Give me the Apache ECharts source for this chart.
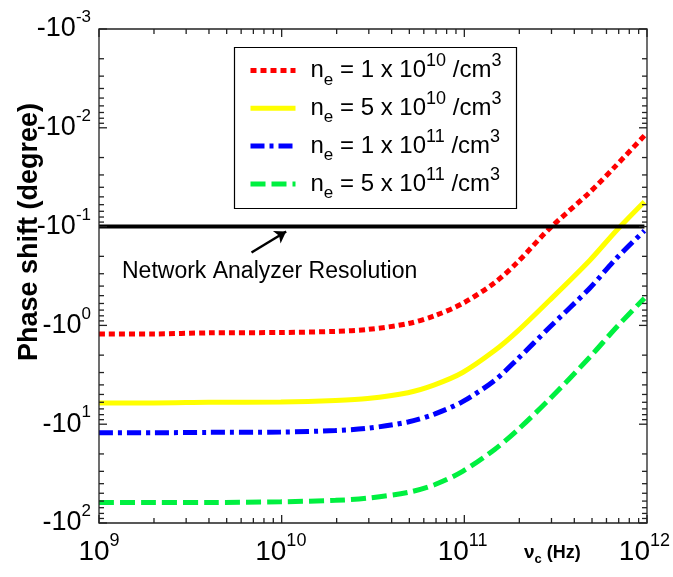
<!DOCTYPE html>
<html>
<head>
<meta charset="utf-8">
<script src="https://cdn.jsdelivr.net/npm/echarts@6/dist/echarts.min.js"></script>
<style>
    html, body {margin: 0; padding: 0; background: #fff;}
    #container {width: 673px; height: 577px;}
</style>
</head>
<body>
<div id="container"></div>
<script>
// collision frequency (Hz)
var freq = [1e9, 2e9, 4e9, 1e10, 2e10, 3e10, 5e10, 7e10, 1e11, 1.5e11, 2e11, 3e11, 5e11, 7e11, 1e12];
// |phase shift| in degree (axis shows them negative)
var shiftA = [1.22, 1.22, 1.19, 1.18, 1.15, 1.10, 0.96, 0.80, 0.60, 0.37, 0.23, 0.105, 0.045, 0.024, 0.012];
var shiftB = [6.1, 6.1, 6.0, 5.95, 5.75, 5.5, 4.8, 4.0, 3.0, 1.8, 1.15, 0.56, 0.22, 0.11, 0.056];
var shiftC = [12.2, 12.2, 12.1, 12.0, 11.6, 11.0, 9.5, 7.9, 5.9, 3.6, 2.2, 1.05, 0.42, 0.21, 0.11];
var shiftD = [62, 62, 62, 61, 59, 56, 49, 41, 30, 18, 11.5, 5.6, 2.1, 1.05, 0.53];
var resolution = 0.1;
var arrowFrom = [6.9e9, 0.183];
var arrowTo = [1.07e10, 0.112];

var densityBase = ['1', '5', '1', '5'];
var densityExp = ['10', '10', '11', '11'];
var seriesNames = ['ne1e10', 'ne5e10', 'ne1e11', 'ne5e11'];

var xMajorTicks = [1e9, 1e10, 1e11, 1e12];
var yMajorTicks = [1e-3, 1e-2, 1e-1, 1, 10, 100];
var minorSteps = [2, 3, 4, 5, 6, 7, 8, 9];

var X_MIN = 1e9, X_MAX = 1e12, Y_MIN = 1e-3, Y_MAX = 100;
var FONT = 'Liberation Sans, Arial, sans-serif';
var AXIS_COLOR = '#222';
var GRID = {left: 99, right: 26, top: 29, bottom: 54};
var CHART_W = 673, CHART_H = 577;

function pairs(xs, ys) {
    var out = [];
    for (var i = 0; i < xs.length; i++) {
        out.push([xs[i], ys[i]]);
    }
    return out;
}

function log10(v) {
    return Math.log(v) / Math.LN10;
}

function expOf(v) {
    return Math.round(log10(v));
}

// decade ticks (long) + 2..9 minor ticks (short)
function buildTicks(majors) {
    var out = [];
    for (var i = 0; i < majors.length; i++) {
        out.push({v: majors[i], len: 8});
        if (i == majors.length - 1) break;
        for (var j = 0; j < minorSteps.length; j++) {
            out.push({v: majors[i] * minorSteps[j], len: 5});
        }
    }
    return out;
}

// plot box in pixels, same numbers as the grid option
var boxL = GRID.left, boxR = CHART_W - GRID.right;
var boxT = GRID.top, boxB = CHART_H - GRID.bottom;

function xPx(v) {
    return boxL + (boxR - boxL) * (log10(v) - log10(X_MIN)) / (log10(X_MAX) - log10(X_MIN));
}
function yPx(v) {
    // y axis is inverted: smallest magnitude at the top
    return boxT + (boxB - boxT) * (log10(v) - log10(Y_MIN)) / (log10(Y_MAX) - log10(Y_MIN));
}

function bar(x, y, w, h) {
    return {
        type: 'rect', silent: true, z: 10,
        shape: {x: x, y: y, width: w, height: h},
        style: {fill: AXIS_COLOR}
    };
}

var dom = document.getElementById('container');
var myChart = echarts.init(dom);

var lineStyles = [
    {color: '#ff0000', width: 5, type: [6, 4]},
    {color: '#ffff00', width: 5, type: 'solid'},
    {color: '#0000ff', width: 5, type: [14, 5, 4, 5]},
    {color: '#00f040', width: 5, type: [15, 6]}
];
var shiftData = [shiftA, shiftB, shiftC, shiftD];

var seriesData = [];
for (var i = 0; i < seriesNames.length; i++) {
    seriesData.push({
        name: seriesNames[i],
        type: 'line',
        symbol: 'none',
        smooth: 0.3,
        data: pairs(freq, shiftData[i]),
        itemStyle: {color: lineStyles[i].color},
        lineStyle: lineStyles[i]
    });
}
seriesData.push({
    name: 'resolution',
    type: 'line',
    symbol: 'none',
    data: [[X_MIN, resolution], [X_MAX, resolution]],
    lineStyle: {color: '#000', width: 4},
    itemStyle: {color: '#000'},
    markLine: {
        silent: true,
        symbol: ['none', 'arrow'],
        symbolSize: 11,
        label: {show: false},
        lineStyle: {color: '#000', width: 2.5, type: 'solid'},
        data: [[{coord: arrowFrom}, {coord: arrowTo}]]
    }
});

var graphics = [
    {
        type: 'text',
        x: 30,
        y: 232,
        rotation: Math.PI / 2,
        style: {
            text: 'Phase shift (degree)',
            font: 'bold 27px ' + FONT,
            fill: '#000',
            align: 'center',
            verticalAlign: 'middle'
        }
    },
    {
        type: 'text',
        x: 122,
        y: 272,
        style: {
            text: 'Network Analyzer Resolution',
            font: '23px ' + FONT,
            fill: '#000',
            align: 'left',
            verticalAlign: 'middle'
        }
    },
    {
        type: 'text',
        x: 524,
        y: 540,
        style: {
            text: '{v|\u03bd}{c|c}{h| (Hz)}',
            rich: {
                v: {font: 'bold 19px ' + FONT, lineHeight: 26, fill: '#000'},
                c: {font: 'bold 13px ' + FONT, lineHeight: 4, verticalAlign: 'bottom', fill: '#000'},
                h: {font: 'bold 18px ' + FONT, lineHeight: 26, fill: '#000'}
            }
        }
    },
    {
        // legend frame
        type: 'rect', silent: true, z: 10,
        shape: {x: 234.5, y: 47.5, width: 282, height: 161},
        style: {fill: null, stroke: '#000', lineWidth: 1.2}
    },
    {
        // plot frame
        type: 'rect', silent: true, z: 10,
        shape: {x: boxL, y: boxT, width: boxR - boxL, height: boxB - boxT},
        style: {fill: null, stroke: AXIS_COLOR, lineWidth: 1.3}
    }
];

// inside ticks on all four sides
buildTicks(xMajorTicks).forEach(function (t) {
    var px = xPx(t.v);
    graphics.push(bar(px - 0.65, boxB - t.len, 1.3, t.len));
    graphics.push(bar(px - 0.65, boxT, 1.3, t.len));
});
buildTicks(yMajorTicks).forEach(function (t) {
    var py = yPx(t.v);
    graphics.push(bar(boxL, py - 0.65, t.len, 1.3));
    graphics.push(bar(boxR - t.len, py - 0.65, t.len, 1.3));
});

var option = {
    animation: false,
    grid: GRID,
    xAxis: {
        type: 'log',
        min: X_MIN,
        max: X_MAX,
        splitLine: {show: false},
        axisLine: {show: false, onZero: false},
        axisTick: {show: false},
        axisLabel: {
            margin: 9,
            formatter: function (v) {
                return '{b|10}{s|' + expOf(v) + '}';
            },
            rich: {
                b: {fontSize: 28, lineHeight: 40, fontFamily: FONT, color: '#000'},
                s: {fontSize: 18, lineHeight: 10, verticalAlign: 'top', fontFamily: FONT, color: '#000'}
            }
        }
    },
    yAxis: {
        type: 'log',
        inverse: true,
        min: Y_MIN,
        max: Y_MAX,
        splitLine: {show: false},
        axisLine: {show: false, onZero: false},
        axisTick: {show: false},
        axisLabel: {
            margin: 8,
            formatter: function (v) {
                return '{b|-10}{s|' + expOf(v) + '}';
            },
            rich: {
                b: {fontSize: 27, lineHeight: 40, fontFamily: FONT, color: '#000'},
                s: {fontSize: 17, lineHeight: 12, verticalAlign: 'top', fontFamily: FONT, color: '#000'}
            }
        }
    },
    legend: {
        orient: 'vertical',
        left: 234,
        top: 47,
        padding: [5.5, 20, 6, 14],
        borderWidth: 0,
        itemWidth: 45,
        itemHeight: 10,
        itemGap: 1.8,
        selectedMode: false,
        data: seriesNames,
        itemStyle: {opacity: 0},
        lineStyle: {width: 5},
        formatter: function (name) {
            var k = seriesNames.indexOf(name);
            return '{sp|}{m|n}{sub|e}{m| = ' + densityBase[k] + ' x 10}{sup|' + densityExp[k] +
                '}{m| /cm}{sup|3}';
        },
        textStyle: {
            rich: {
                sp: {width: 10},
                m: {fontSize: 24, lineHeight: 36, fontFamily: FONT, color: '#000'},
                sub: {fontSize: 17, lineHeight: 1, verticalAlign: 'bottom', fontFamily: FONT, color: '#000'},
                sup: {fontSize: 18, lineHeight: 30, verticalAlign: 'top', fontFamily: FONT, color: '#000'}
            }
        }
    },
    graphic: graphics,
    series: seriesData
};

myChart.setOption(option);
</script>
</body>
</html>
